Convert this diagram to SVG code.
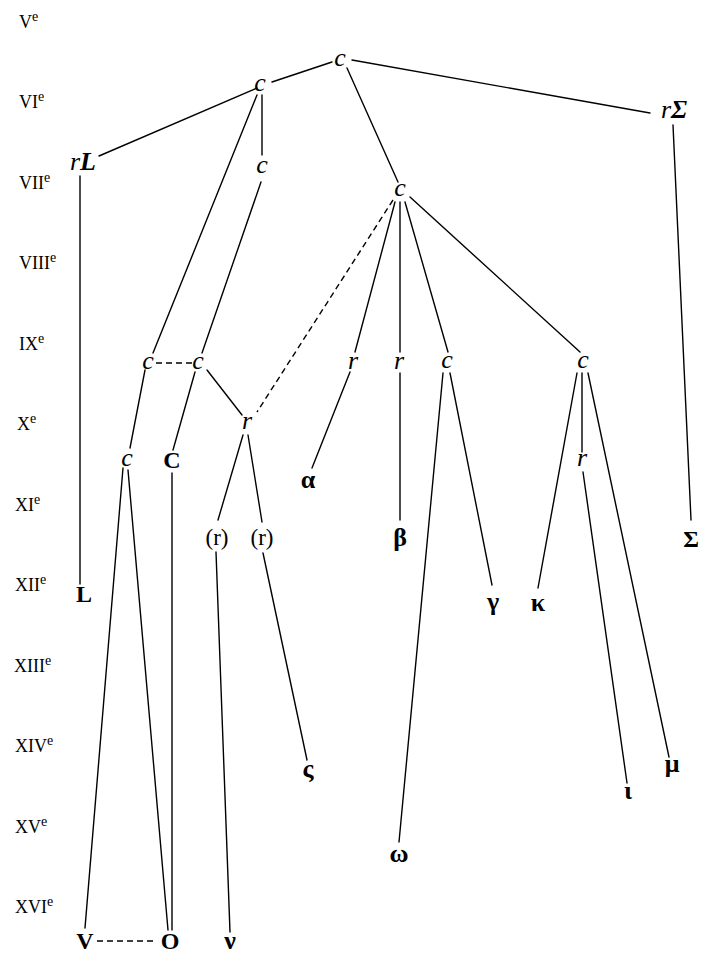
<svg xmlns="http://www.w3.org/2000/svg" width="701" height="955" viewBox="0 0 701 955">
  <style>
    .cent { font-family: "Liberation Serif", "Times New Roman", serif; font-size: 18px; fill: #000; }
    .cent tspan.sup { font-size: 14px; }
    .it { font-family: "Liberation Serif", "Times New Roman", serif; font-style: italic; font-size: 26px; fill: #000; text-anchor: middle; }
    .bd { font-family: "Liberation Serif", "Times New Roman", serif; font-weight: bold; font-size: 24px; fill: #000; text-anchor: middle; }
    .gk { font-size: 26px; }
    .par { font-family: "Liberation Serif", "Times New Roman", serif; font-size: 23px; fill: #000; text-anchor: middle; }
    .bi { font-weight: bold; font-style: italic; }
    .edge { stroke: #000; stroke-width: 1.4; fill: none; stroke-linecap: round; }
    .dash { stroke-dasharray: 6 4; stroke-linecap: butt; }
  </style>
  <rect width="701" height="955" fill="#fff"/>

  <!-- century scale -->
  <g id="centuries">
    <text class="cent" x="19" y="28">V<tspan class="sup" dy="-7">e</tspan></text>
    <text class="cent" x="19" y="108">VI<tspan class="sup" dy="-7">e</tspan></text>
    <text class="cent" x="19" y="189">VII<tspan class="sup" dy="-7">e</tspan></text>
    <text class="cent" x="19" y="269">VIII<tspan class="sup" dy="-7">e</tspan></text>
    <text class="cent" x="19" y="350">IX<tspan class="sup" dy="-7">e</tspan></text>
    <text class="cent" x="17" y="430">X<tspan class="sup" dy="-7">e</tspan></text>
    <text class="cent" x="15" y="511">XI<tspan class="sup" dy="-7">e</tspan></text>
    <text class="cent" x="15" y="591">XII<tspan class="sup" dy="-7">e</tspan></text>
    <text class="cent" x="14" y="672">XIII<tspan class="sup" dy="-7">e</tspan></text>
    <text class="cent" x="15" y="752">XIV<tspan class="sup" dy="-7">e</tspan></text>
    <text class="cent" x="15" y="833">XV<tspan class="sup" dy="-7">e</tspan></text>
    <text class="cent" x="15" y="913">XVI<tspan class="sup" dy="-7">e</tspan></text>
  </g>

  <!-- connectors -->
  <g id="connectors">
    <line class="edge" x1="332" y1="62" x2="272" y2="82"/>
    <line class="edge" x1="352" y1="60" x2="650" y2="113"/>
    <line class="edge" x1="347" y1="68" x2="398" y2="182"/>
    <line class="edge" x1="257" y1="88" x2="99" y2="156"/>
    <line class="edge" x1="262" y1="95" x2="262" y2="155"/>
    <line class="edge" x1="257" y1="95" x2="153" y2="353"/>
    <line class="edge" x1="261" y1="182" x2="202" y2="353"/>
    <line class="edge" x1="80" y1="176" x2="80" y2="584"/>
    <line class="edge" x1="673" y1="125" x2="691" y2="520"/>
    <line class="edge dash" x1="393" y1="200" x2="257" y2="412"/>
    <line class="edge" x1="395" y1="202" x2="355" y2="352"/>
    <line class="edge" x1="400" y1="202" x2="400" y2="352"/>
    <line class="edge" x1="405" y1="202" x2="448" y2="352"/>
    <line class="edge" x1="410" y1="197" x2="580" y2="352"/>
    <line class="edge dash" x1="156" y1="363" x2="193" y2="363"/>
    <line class="edge" x1="207" y1="370" x2="242" y2="415"/>
    <line class="edge" x1="145" y1="370" x2="130" y2="448"/>
    <line class="edge" x1="195" y1="372" x2="173" y2="450"/>
    <line class="edge" x1="350" y1="372" x2="312" y2="468"/>
    <line class="edge" x1="400" y1="373" x2="400" y2="520"/>
    <line class="edge" x1="243" y1="435" x2="218" y2="520"/>
    <line class="edge" x1="248" y1="435" x2="262" y2="522"/>
    <line class="edge" x1="123" y1="468" x2="85" y2="928"/>
    <line class="edge" x1="128" y1="470" x2="168" y2="930"/>
    <line class="edge" x1="172" y1="473" x2="172" y2="930"/>
    <line class="edge" x1="216" y1="552" x2="230" y2="932"/>
    <line class="edge" x1="263" y1="553" x2="307" y2="760"/>
    <line class="edge" x1="443" y1="373" x2="399" y2="842"/>
    <line class="edge" x1="450" y1="373" x2="492" y2="585"/>
    <line class="edge" x1="577" y1="373" x2="538" y2="588"/>
    <line class="edge" x1="582" y1="373" x2="582" y2="452"/>
    <line class="edge" x1="588" y1="373" x2="669" y2="757"/>
    <line class="edge" x1="583" y1="472" x2="627" y2="783"/>
    <line class="edge dash" x1="97" y1="941" x2="157" y2="941"/>
  </g>

  <!-- nodes -->
  <g id="n-root"><text class="it" x="340" y="66">c</text></g>
  <g id="n-c2"><text class="it" x="260" y="91">c</text></g>
  <g id="n-rL"><text class="it" x="83" y="170">r<tspan class="bi">L</tspan></text></g>
  <g id="n-rSigma"><text class="it" x="674" y="118">r<tspan class="bi">Σ</tspan></text></g>
  <g id="n-c3"><text class="it" x="262" y="173">c</text></g>
  <g id="n-c4"><text class="it" x="400" y="196">c</text></g>
  <g id="n-c5"><text class="it" x="148" y="369">c</text></g>
  <g id="n-c6"><text class="it" x="198" y="369">c</text></g>
  <g id="n-r1"><text class="it" x="353" y="369">r</text></g>
  <g id="n-r2"><text class="it" x="399" y="369">r</text></g>
  <g id="n-c7"><text class="it" x="447" y="368">c</text></g>
  <g id="n-c8"><text class="it" x="583" y="368">c</text></g>
  <g id="n-r3"><text class="it" x="247" y="429">r</text></g>
  <g id="n-c9"><text class="it" x="127" y="466">c</text></g>
  <g id="n-C"><text class="bd" x="172" y="468">C</text></g>
  <g id="n-r4"><text class="it" x="582" y="466">r</text></g>
  <g id="n-alpha"><text class="bd gk" x="308" y="488">α</text></g>
  <g id="n-pr1"><text class="par" x="217" y="545">(r)</text></g>
  <g id="n-pr2"><text class="par" x="262" y="545">(r)</text></g>
  <g id="n-beta"><text class="bd gk" x="400" y="546">β</text></g>
  <g id="n-Sigma"><text class="bd" x="691" y="547">Σ</text></g>
  <g id="n-L"><text class="bd" x="84" y="602">L</text></g>
  <g id="n-gamma"><text class="bd gk" x="493" y="610">γ</text></g>
  <g id="n-kappa"><text class="bd gk" x="538" y="611">κ</text></g>
  <g id="n-mu"><text class="bd gk" x="672" y="772">μ</text></g>
  <g id="n-sigma"><text class="bd gk" x="308" y="777">ς</text></g>
  <g id="n-iota"><text class="bd gk" x="628" y="799">ι</text></g>
  <g id="n-omega"><text class="bd gk" x="399" y="862">ω</text></g>
  <g id="n-V"><text class="bd" x="85" y="949">V</text></g>
  <g id="n-O"><text class="bd" x="170" y="949">O</text></g>
  <g id="n-nu"><text class="bd gk" x="230" y="949">ν</text></g>
</svg>
